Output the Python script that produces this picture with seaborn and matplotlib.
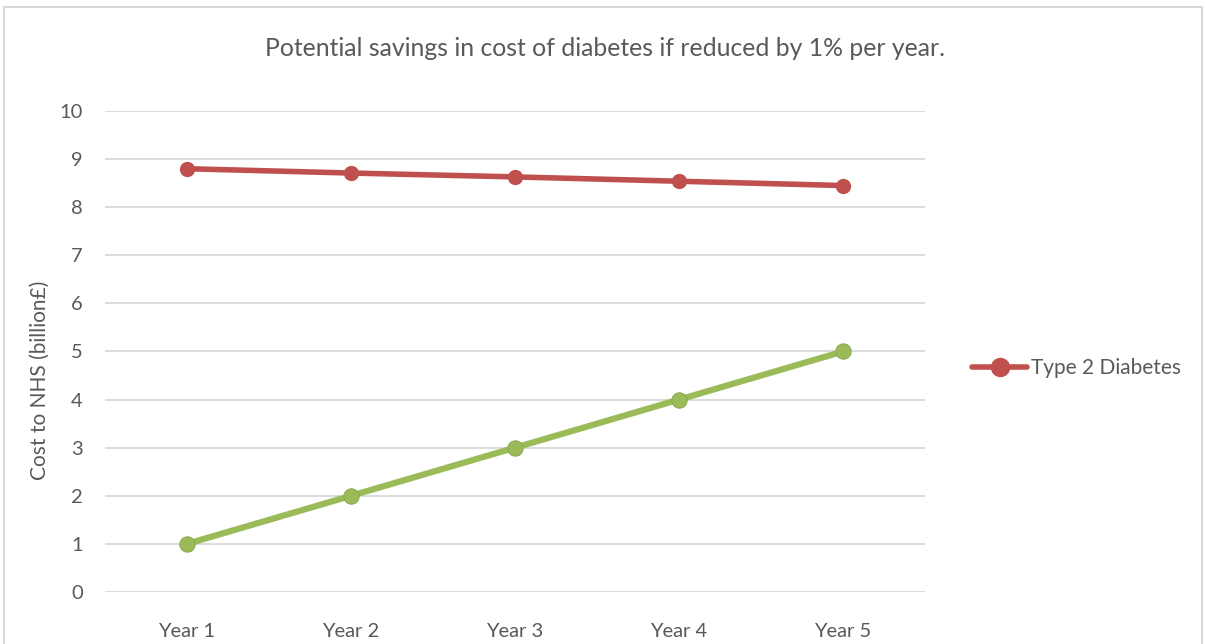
import matplotlib
matplotlib.use("Agg")
import matplotlib.pyplot as plt
import seaborn as sns
import pandas as pd
from matplotlib.patches import Rectangle
from matplotlib.lines import Line2D

# data
years = ["Year 1", "Year 2", "Year 3", "Year 4", "Year 5"]
type2_cost = [8.8, 8.71, 8.63, 8.54, 8.45]
savings = [1, 2, 3, 4, 5]

red = "#C0504D"
green = "#9BBB59"
text_col = "#595959"

sns.set_theme(style="white")
plt.rcParams["font.family"] = ["Lato", "DejaVu Sans"]

df = pd.DataFrame({"year": years, "type2": type2_cost, "savings": savings})

fig = plt.figure(figsize=(12.05, 6.44), dpi=100)
ax = fig.add_axes([105 / 1205, 1 - 592 / 644, 820 / 1205, 481 / 644])

# red series (Type 2 Diabetes)
sns.lineplot(data=df, x="year", y="type2", ax=ax, color=red, lw=4,
             marker="o", markersize=11, markeredgewidth=0, sort=False)
# green series (no legend entry in original)
sns.lineplot(data=df, x="year", y="savings", ax=ax, color=green, lw=4.5,
             marker="o", markersize=11, markeredgewidth=0.8,
             markeredgecolor="#8DAA50", sort=False)

ax.set_xlim(-0.5, 4.5)
ax.set_ylim(0, 10)
ax.set_yticks(range(0, 11))
ax.grid(axis="y", color="#D9D9D9", lw=1.3)
ax.set_axisbelow(True)
for s in ax.spines.values():
    s.set_visible(False)
ax.tick_params(axis="both", length=0, labelsize=14.5, labelcolor=text_col)
ax.tick_params(axis="y", pad=16)
ax.tick_params(axis="x", pad=22)
ax.set_xlabel("")
ax.set_ylabel("Cost to NHS (billion£)", fontsize=15, color=text_col)
ax.yaxis.set_label_coords(-0.067, 0.44)

fig.text(0.502, 1 - 48 / 644, "Potential savings in cost of diabetes if reduced by 1% per year.",
         ha="center", va="center", fontsize=17.8, color=text_col)

handle = Line2D([], [], color=red, lw=4, marker="o", markersize=14, markeredgewidth=0)
ax.legend(handles=[handle], labels=["Type 2 Diabetes"], frameon=False,
          loc="center left", bbox_to_anchor=(1.035, 0.465), fontsize=15,
          labelcolor=text_col, handlelength=2.6, handletextpad=0.2)

# chart frame
fig.add_artist(Rectangle((4 / 1205, -0.1), 1198 / 1205, 1.1 - 7 / 644,
                         transform=fig.transFigure, fill=False,
                         edgecolor="#D9D9D9", lw=1.5))

fig.savefig("out.png", dpi=100)
